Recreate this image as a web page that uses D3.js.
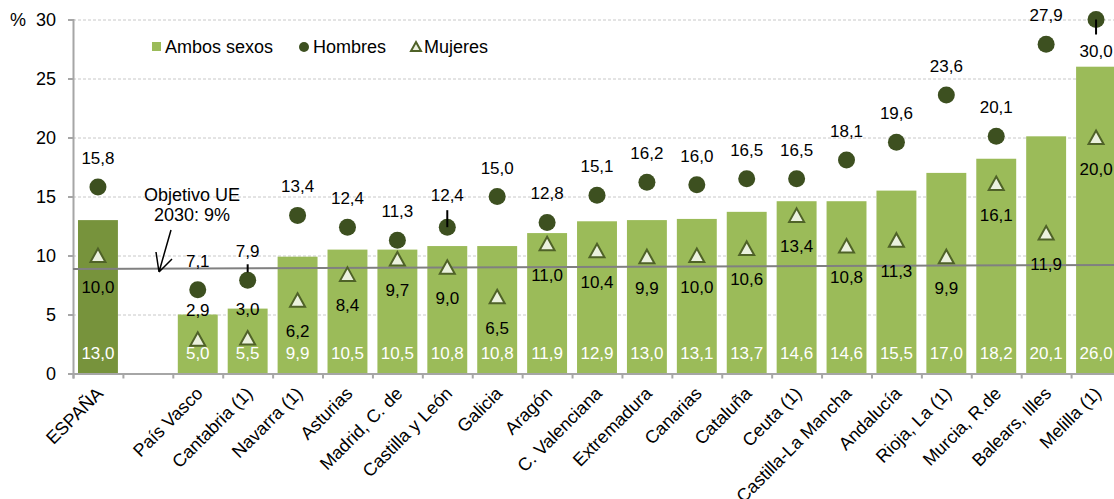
<!DOCTYPE html>
<html>
<head>
  <meta charset="utf-8">
  <title>Abandono temprano</title>
</head>
<style>
  body {
    margin: 0;
    background: #fff;
  }
  svg text {
    font-family: "Liberation Sans", Arial, sans-serif;
  }
</style>
<body>
  <script src="https://d3js.org/d3.v7.min.js"></script>
  <script>
    // categorias (el hueco vacio separa ESPAÑA del resto)
    const categorias = ["ESPAÑA", "", "País Vasco", "Cantabria (1)", "Navarra (1)", "Asturias",
      "Madrid, C. de", "Castilla y León", "Galicia", "Aragón", "C. Valenciana", "Extremadura",
      "Canarias", "Cataluña", "Ceuta (1)", "Castilla-La Mancha", "Andalucía", "Rioja, La (1)",
      "Murcia, R.de", "Balears, Illes", "Melilla (1)"];
    const ambos = [13.0, null, 5.0, 5.5, 9.9, 10.5, 10.5, 10.8, 10.8, 11.9, 12.9, 13.0,
      13.1, 13.7, 14.6, 14.6, 15.5, 17.0, 18.2, 20.1, 26.0];
    const hombres = [15.8, null, 7.1, 7.9, 13.4, 12.4, 11.3, 12.4, 15.0, 12.8, 15.1, 16.2,
      16.0, 16.5, 16.5, 18.1, 19.6, 23.6, 20.1, 27.9, 30.0];
    const mujeres = [10.0, null, 2.9, 3.0, 6.2, 8.4, 9.7, 9.0, 6.5, 11.0, 10.4, 9.9,
      10.0, 10.6, 13.4, 10.8, 11.3, 9.9, 16.1, 11.9, 20.0];
    const yTicks = [0, 5, 10, 15, 20, 25, 30];
    const objetivo = [8.85, 9.2]; // linea del objetivo UE (algo inclinada, como en el original)

    const w = 1114;
    const h = 499;
    const x0 = 73, x1 = 1121;
    const fmt = d => d3.format(".1f")(d).replace(".", ",");

    const svg = d3.select("body")
                  .append("svg")
                  .attr("width", w)
                  .attr("height", h)

    const x = d3.scaleBand()
                .domain(categorias)
                .range([x0, x1])
                .paddingInner(0.2)
                .paddingOuter(0.1)
    const xEdges = d3.scaleLinear().domain([0, categorias.length]).range([x0, x1])
    const y = d3.scaleLinear().domain([0, 30]).range([373.5, 19.5])
    const cx = d => x(d) + x.bandwidth() / 2

    // rejilla
    svg.append("g")
       .attr("transform", "translate(" + x0 + ",0)")
       .call(d3.axisLeft(y).tickValues(yTicks.slice(1)).tickSize(-(w - x0)).tickFormat(""))
       .call(g => g.select(".domain").remove())
       .selectAll("line")
         .attr("stroke", "#c8c8c8")
         .attr("stroke-dasharray", "3,2")

    const rows = categorias.map((c, i) => ({c: c, a: ambos[i], hm: hombres[i], m: mujeres[i]}))
                           .filter(d => d.a != null)

    // barras ambos sexos
    svg.selectAll("rect.bar")
       .data(rows)
       .join("rect")
         .attr("class", "bar")
         .attr("x", d => x(d.c))
         .attr("y", d => y(d.a))
         .attr("width", x.bandwidth())
         .attr("height", d => y(0) - y(d.a))
         .attr("fill", d => d.c == "ESPAÑA" ? "#77933c" : "#9bbb59")

    svg.selectAll("text.va")
       .data(rows)
       .join("text")
         .attr("class", "va")
         .attr("x", d => cx(d.c))
         .attr("y", y(0) - 15)
         .attr("text-anchor", "middle")
         .attr("font-size", 17)
         .attr("fill", "#fff")
         .text(d => fmt(d.a))

    // ejes
    const yAxis = svg.append("g")
       .attr("transform", "translate(" + x0 + ",0)")
       .call(d3.axisLeft(y).tickValues(yTicks).tickSize(5).tickPadding(12))
    yAxis.selectAll("text").attr("font-size", 18).attr("fill", "#000")
    yAxis.selectAll("line, path").attr("stroke", "#a6a6a6").attr("stroke-width", 2)

    const xAxis = svg.append("g")
       .attr("transform", "translate(0," + y(0) + ")")
       .call(d3.axisBottom(xEdges).tickValues(d3.range(categorias.length + 1)).tickSize(5).tickFormat(""))
    xAxis.selectAll("line, path").attr("stroke", "#a6a6a6").attr("stroke-width", 2)

    svg.append("text")
       .attr("x", 18)
       .attr("y", y(30) + 6)
       .attr("text-anchor", "middle")
       .attr("font-size", 18)
       .text("%")

    svg.selectAll("text.cat")
       .data(categorias.filter(c => c != ""))
       .join("text")
         .attr("class", "cat")
         .attr("transform", d => "translate(" + (cx(d) - 3) + "," + (y(0) + 12) + ") rotate(-45)")
         .attr("dy", "0.72em")
         .attr("text-anchor", "end")
         .attr("font-size", 18)
         .text(d => d)

    // linea objetivo UE
    svg.append("line")
       .attr("x1", x0).attr("x2", w)
       .attr("y1", y(objetivo[0])).attr("y2", y(objetivo[1]))
       .attr("stroke", "#808080")
       .attr("stroke-width", 2)

    // hombres
    const hLabel = {"Cantabria (1)": -23, "Castilla y León": -26, "Melilla (1)": 37}
    const hLeader = {"Cantabria (1)": [-16, -8], "Castilla y León": [-17, 0], "Melilla (1)": [0, 15]}

    svg.selectAll("circle.h")
       .data(rows)
       .join("circle")
         .attr("class", "h")
         .attr("cx", d => cx(d.c))
         .attr("cy", d => y(d.hm))
         .attr("r", 8.5)
         .attr("fill", "#3d5020")

    svg.selectAll("line.lead")
       .data(rows.filter(d => hLeader[d.c]))
       .join("line")
         .attr("class", "lead")
         .attr("x1", d => cx(d.c)).attr("x2", d => cx(d.c))
         .attr("y1", d => y(d.hm) + hLeader[d.c][0])
         .attr("y2", d => y(d.hm) + hLeader[d.c][1])
         .attr("stroke", "#000")
         .attr("stroke-width", 2)

    svg.selectAll("text.hl")
       .data(rows)
       .join("text")
         .attr("class", "hl")
         .attr("x", d => cx(d.c))
         .attr("y", d => y(d.hm) + (hLabel[d.c] != null ? hLabel[d.c] : -23))
         .attr("text-anchor", "middle")
         .attr("font-size", 17)
         .text(d => fmt(d.hm))

    // mujeres
    const arriba = ["País Vasco", "Cantabria (1)"]
    const tri = "M0,-7L7.5,6.5L-7.5,6.5Z"

    svg.selectAll("path.m")
       .data(rows)
       .join("path")
         .attr("class", "m")
         .attr("d", tri)
         .attr("transform", d => "translate(" + cx(d.c) + "," + y(d.m) + ")")
         .attr("fill", "#ebf1de")
         .attr("stroke", "#4f6228")
         .attr("stroke-width", 2)

    svg.selectAll("text.ml")
       .data(rows)
       .join("text")
         .attr("class", "ml")
         .attr("x", d => cx(d.c))
         .attr("y", d => y(d.m) + (arriba.includes(d.c) ? -23 : 37))
         .attr("text-anchor", "middle")
         .attr("font-size", 17)
         .text(d => fmt(d.m))

    // anotacion
    const note = svg.append("text")
       .attr("text-anchor", "middle")
       .attr("font-size", 18)
    note.append("tspan").attr("x", 192).attr("y", 201).text("Objetivo UE")
    note.append("tspan").attr("x", 192).attr("y", 221).text("2030: 9%")

    svg.append("path")
       .attr("d", "M171,230L159,272M159,272L156,252M159,272L172,259")
       .attr("stroke", "#000")
       .attr("stroke-width", 1.5)
       .attr("fill", "none")

    // leyenda
    const leg = svg.append("g").attr("font-size", 18)
    leg.append("rect").attr("x", 152).attr("y", 42).attr("width", 9).attr("height", 9).attr("fill", "#9bbb59")
    leg.append("text").attr("x", 165).attr("y", 53).text("Ambos sexos")
    leg.append("circle").attr("cx", 304).attr("cy", 47).attr("r", 5).attr("fill", "#3d5020")
    leg.append("text").attr("x", 313).attr("y", 53).text("Hombres")
    leg.append("path").attr("d", "M0,-5L5,4L-5,4Z").attr("transform", "translate(416,47)")
       .attr("fill", "#ebf1de").attr("stroke", "#4f6228").attr("stroke-width", 2)
    leg.append("text").attr("x", 424).attr("y", 53).text("Mujeres")
  </script>
</body>
</html>
